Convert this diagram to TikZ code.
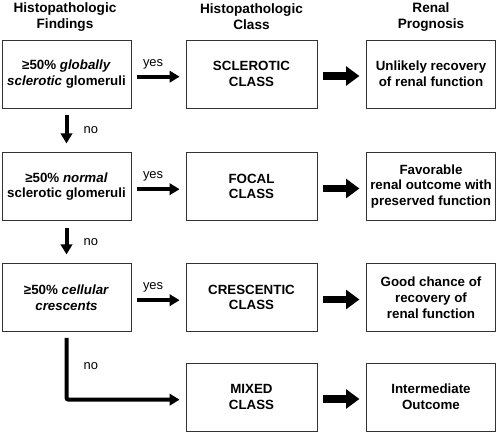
\documentclass[tikz,border=0pt]{standalone}
\usepackage{fontspec}
\setmainfont{Liberation Sans}
\usetikzlibrary{arrows.meta}

\begin{document}
\begin{tikzpicture}[x=0.75pt,y=-0.75pt,
  box/.style={draw=black!80,line width=0.6pt,minimum width=96.75pt,minimum height=51pt,
    inner sep=0pt,align=center,font=\fontsize{10}{11.8}\selectfont\bfseries},
  head/.style={align=center,font=\fontsize{10.2}{12}\selectfont\bfseries},
  lab/.style={font=\fontsize{9.7}{11.8}\selectfont},
  yesarrow/.style={line width=3pt,-{Triangle[length=7.5pt,width=8.5pt]},shorten <=4.5pt,shorten >=4.5pt},
  fatarrow/.style={line width=5.3pt,-{Triangle[length=10pt,width=14pt]},shorten <=4.5pt,shorten >=5pt}]
\useasboundingbox (0,0) rectangle (498,432);

\node[head] (h1) at (65,17) {Histopathologic\\Findings};
\node[head] (h2) at (251.5,17) {Histopathologic\\Class};
\node[head] (h3) at (431,17) {Renal\\Prognosis};

\node[box] (f1) at (66.5,74) {\char"2265 50\% \textit{globally}\\\textit{sclerotic} glomeruli};
\node[box] (f2) at (66.5,186.5) {\char"2265 50\% \textit{normal}\\sclerotic glomeruli};
\node[box] (f3) at (66.5,297.5) {\char"2265 50\% \textit{cellular}\\\textit{crescents}};

\node[box,minimum width=98.25pt] (c1) at (251.5,74) {SCLEROTIC\\CLASS};
\node[box,minimum width=98.25pt] (c2) at (251.5,186.5) {FOCAL\\CLASS};
\node[box,minimum width=98.25pt] (c3) at (251.5,297.5) {CRESCENTIC\\CLASS};
\node[box,minimum width=98.25pt] (c4) at (251.5,397) {MIXED\\CLASS};

\node[box] (p1) at (431,74) {Unlikely recovery\\of renal function};
\node[box] (p2) at (431,186.5) {Favorable\\renal outcome with\\preserved function};
\node[box] (p3) at (431,297.5) {Good chance of\\recovery of\\renal function};
\node[box] (p4) at (431,397) {Intermediate\\Outcome};

\draw[yesarrow] ([yshift=-2pt]f1.east) -- node[lab,above=1pt,pos=0.4] {yes} ([yshift=-2pt]c1.west);
\draw[yesarrow] ([yshift=-2pt]f2.east) -- node[lab,above=1pt,pos=0.4] {yes} ([yshift=-2pt]c2.west);
\draw[yesarrow] ([yshift=-2pt]f3.east) -- node[lab,above=1pt,pos=0.4] {yes} ([yshift=-2pt]c3.west);

\draw[yesarrow,shorten <=5pt,shorten >=6.5pt] (f1.south) -- node[lab,right=8pt] {no} (f2.north);
\draw[yesarrow,shorten <=5pt,shorten >=6.5pt] (f2.south) -- node[lab,right=8pt] {no} (f3.north);
\draw[yesarrow,rounded corners=1.5pt] (f3.south) |- node[lab,right=8pt,pos=0.25] {no} ([yshift=-2pt]c4.west);

\draw[fatarrow] ([yshift=-1.5pt]c1.east) -- ([yshift=-1.5pt]p1.west);
\draw[fatarrow] ([yshift=-1.5pt]c2.east) -- ([yshift=-1.5pt]p2.west);
\draw[fatarrow] ([yshift=-1.5pt]c3.east) -- ([yshift=-1.5pt]p3.west);
\draw[fatarrow] ([yshift=-1.5pt]c4.east) -- ([yshift=-1.5pt]p4.west);
\end{tikzpicture}
\end{document}
